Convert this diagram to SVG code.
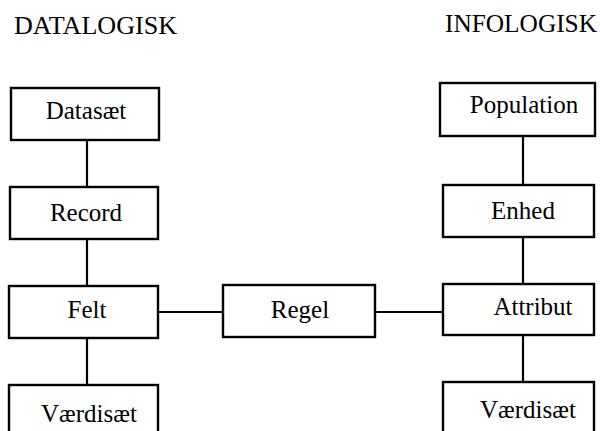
<svg xmlns="http://www.w3.org/2000/svg" width="600" height="431" viewBox="0 0 600 431">
<style>
.box{fill:#fff;stroke:#000;stroke-width:2.4}
.ln{stroke:#000;stroke-width:2.2;fill:none}
text{font-family:'Liberation Serif','Times New Roman',Times,serif;font-size:25px;fill:#000;text-anchor:middle}
.ttl{text-anchor:start}
</style>
<rect width="600" height="431" fill="#fff"/>
<text class="ttl" x="14" y="34" textLength="163" lengthAdjust="spacingAndGlyphs">DATALOGISK</text>
<text class="ttl" x="445" y="32" textLength="152" lengthAdjust="spacingAndGlyphs">INFOLOGISK</text>
<g id="connectors">
<line class="ln" x1="87" y1="140" x2="87" y2="187"/>
<line class="ln" x1="87" y1="239" x2="87" y2="286"/>
<line class="ln" x1="87" y1="338" x2="87" y2="385"/>
<line class="ln" x1="158" y1="312" x2="223" y2="312"/>
<line class="ln" x1="375" y1="312" x2="443" y2="312"/>
<line class="ln" x1="523" y1="136" x2="523" y2="185"/>
<line class="ln" x1="523" y1="237" x2="523" y2="284"/>
<line class="ln" x1="523" y1="335" x2="523" y2="382"/>
</g>
<g id="datasaet"><rect class="box" x="11" y="88" width="148" height="52"/><text x="86" y="119">Datasæt</text></g>
<g id="record"><rect class="box" x="10" y="187" width="148" height="52"/><text x="86" y="221">Record</text></g>
<g id="felt"><rect class="box" x="9" y="286" width="149" height="52"/><text x="87" y="318">Felt</text></g>
<g id="vaerdisaet-left"><rect class="box" x="9" y="385" width="149" height="60"/><text x="89" y="422">Værdisæt</text></g>
<g id="regel"><rect class="box" x="223" y="285" width="152" height="52"/><text x="300" y="318">Regel</text></g>
<g id="population"><rect class="box" x="440" y="83" width="155" height="53"/><text x="524" y="113">Population</text></g>
<g id="enhed"><rect class="box" x="443" y="185" width="151" height="52"/><text x="523" y="219">Enhed</text></g>
<g id="attribut"><rect class="box" x="443" y="284" width="151" height="51"/><text x="533" y="315">Attribut</text></g>
<g id="vaerdisaet-right"><rect class="box" x="443" y="382" width="151" height="60"/><text x="528" y="418">Værdisæt</text></g>
</svg>
